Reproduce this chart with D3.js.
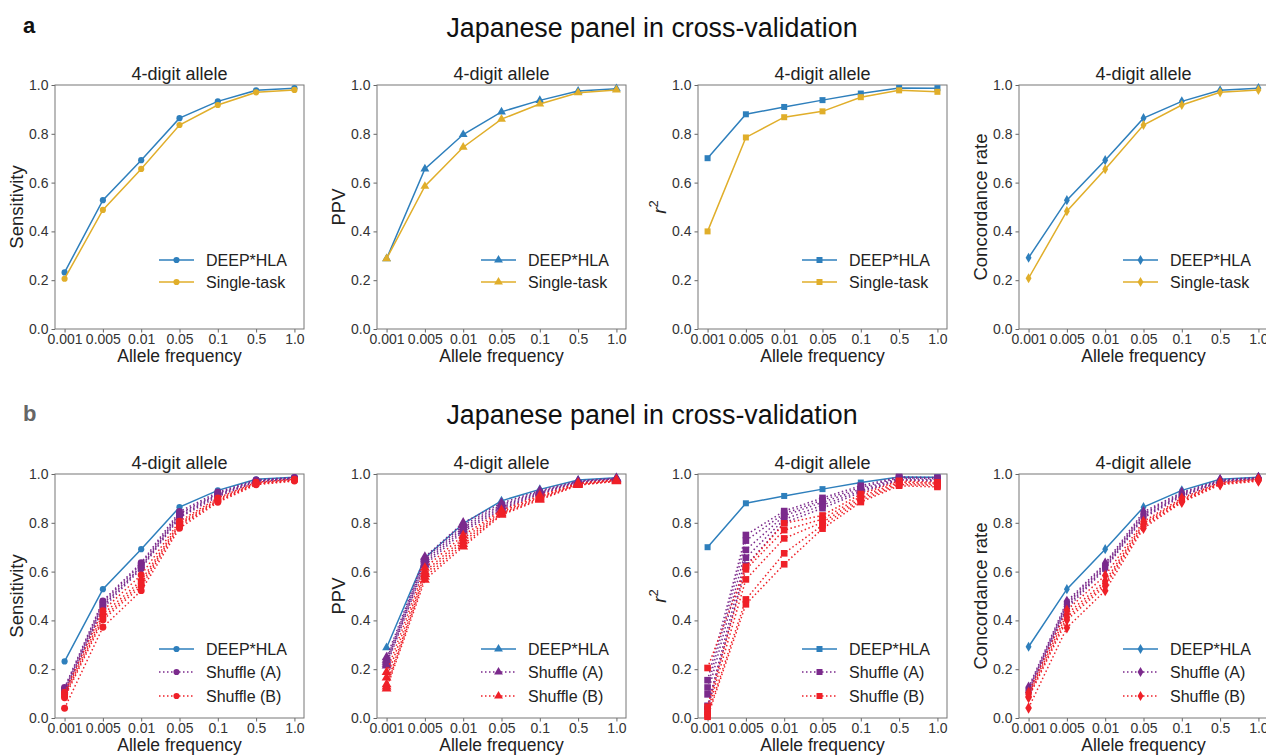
<!DOCTYPE html>
<html>
<head>
<meta charset="utf-8">
<script src="https://cdn.jsdelivr.net/npm/d3@7"></script>
<style>
  body { margin: 0; background: #fff; }
  svg { font-family: "Liberation Sans", Arial, sans-serif; display: block; }
</style>
</head>
<body>
<div id="chart"></div>
<script>
// Allele frequency bins (categorical x axis)
const freqLabels = ["0.001", "0.005", "0.01", "0.05", "0.1", "0.5", "1.0"];
const yTicks = [0, 0.2, 0.4, 0.6, 0.8, 1.0];

// Panel a: DEEP*HLA vs single-task
const sensDeep   = [0.232, 0.528, 0.692, 0.864, 0.933, 0.978, 0.987];
const sensSingle = [0.206, 0.488, 0.656, 0.836, 0.918, 0.970, 0.980];
const ppvDeep    = [0.288, 0.656, 0.797, 0.890, 0.937, 0.975, 0.985];
const ppvSingle  = [0.288, 0.585, 0.745, 0.860, 0.922, 0.968, 0.980];
const r2Deep     = [0.700, 0.880, 0.910, 0.938, 0.965, 0.988, 0.987];
const r2Single   = [0.400, 0.785, 0.868, 0.892, 0.950, 0.978, 0.972];
const concDeep   = [0.292, 0.528, 0.692, 0.864, 0.933, 0.978, 0.987];
const concSingle = [0.208, 0.483, 0.655, 0.836, 0.918, 0.970, 0.980];

// Panel b: shuffle runs
const sensShufA = [
  [0.125, 0.480, 0.636, 0.846, 0.926, 0.976, 0.986],
  [0.120, 0.474, 0.630, 0.838, 0.921, 0.974, 0.984],
  [0.113, 0.466, 0.621, 0.833, 0.917, 0.972, 0.983],
  [0.106, 0.459, 0.617, 0.826, 0.913, 0.970, 0.982],
  [0.101, 0.450, 0.612, 0.821, 0.908, 0.968, 0.980]
];
const sensShufB = [
  [0.106, 0.440, 0.586, 0.806, 0.902, 0.966, 0.979],
  [0.096, 0.425, 0.563, 0.798, 0.897, 0.963, 0.977],
  [0.089, 0.412, 0.551, 0.792, 0.892, 0.961, 0.975],
  [0.083, 0.402, 0.540, 0.786, 0.888, 0.959, 0.973],
  [0.040, 0.372, 0.522, 0.778, 0.884, 0.956, 0.971]
];
const ppvShufA = [
  [0.248, 0.660, 0.800, 0.881, 0.932, 0.972, 0.983],
  [0.238, 0.652, 0.790, 0.874, 0.928, 0.970, 0.981],
  [0.230, 0.645, 0.781, 0.868, 0.925, 0.968, 0.980],
  [0.222, 0.636, 0.772, 0.862, 0.921, 0.966, 0.979],
  [0.215, 0.627, 0.764, 0.856, 0.918, 0.964, 0.978]
];
const ppvShufB = [
  [0.188, 0.615, 0.748, 0.852, 0.912, 0.962, 0.976],
  [0.165, 0.600, 0.735, 0.846, 0.907, 0.960, 0.975],
  [0.138, 0.590, 0.724, 0.840, 0.903, 0.958, 0.973],
  [0.128, 0.578, 0.712, 0.836, 0.898, 0.956, 0.971],
  [0.120, 0.566, 0.702, 0.832, 0.894, 0.954, 0.970]
];
const r2ShufA = [
  [0.155, 0.750, 0.848, 0.902, 0.952, 0.988, 0.985],
  [0.125, 0.727, 0.838, 0.893, 0.945, 0.985, 0.981],
  [0.097, 0.689, 0.829, 0.884, 0.938, 0.982, 0.977],
  [0.050, 0.657, 0.814, 0.872, 0.931, 0.978, 0.974],
  [0.035, 0.625, 0.800, 0.860, 0.925, 0.975, 0.970]
];
const r2ShufB = [
  [0.205, 0.620, 0.798, 0.830, 0.918, 0.972, 0.966],
  [0.046, 0.609, 0.770, 0.815, 0.908, 0.967, 0.962],
  [0.026, 0.568, 0.736, 0.802, 0.900, 0.962, 0.957],
  [0.012, 0.486, 0.675, 0.790, 0.892, 0.957, 0.952],
  [0.005, 0.466, 0.630, 0.776, 0.885, 0.952, 0.947]
];
const concShufA = [
  [0.126, 0.478, 0.634, 0.845, 0.925, 0.976, 0.986],
  [0.120, 0.471, 0.628, 0.838, 0.921, 0.974, 0.984],
  [0.114, 0.464, 0.622, 0.832, 0.916, 0.972, 0.983],
  [0.107, 0.457, 0.616, 0.826, 0.912, 0.970, 0.982],
  [0.102, 0.449, 0.611, 0.820, 0.908, 0.968, 0.980]
];
const concShufB = [
  [0.105, 0.442, 0.584, 0.805, 0.901, 0.966, 0.979],
  [0.096, 0.426, 0.561, 0.798, 0.896, 0.963, 0.977],
  [0.088, 0.413, 0.550, 0.792, 0.892, 0.961, 0.975],
  [0.084, 0.402, 0.540, 0.786, 0.888, 0.959, 0.973],
  [0.041, 0.370, 0.522, 0.778, 0.884, 0.956, 0.971]
];

const yLabels = ["Sensitivity", "PPV", "r2", "Concordance rate"];
const markers = [d3.symbolCircle, d3.symbolTriangle, d3.symbolSquare, d3.symbolDiamond];
const markerSize = [30, 34, 36, 30];

const colors = {
  deep: "#2e7fbc",
  single: "#e0ae2a",
  shufA: "#7b2a8c",
  shufB: "#ef2028"
};

const width = 1266, height = 756;
const rowTop = [85, 474];
const plotH = 244, plotW = 249;
const colLeft = [55, 377, 698, 1019];

const svg = d3.select("#chart").append("svg")
  .attr("width", width)
  .attr("height", height);

svg.append("rect").attr("width", width).attr("height", height).attr("fill", "#fff");

// Figure-level headings
svg.append("text").attr("x", 23).attr("y", 33)
  .style("font-size", "22px").style("font-weight", "bold").attr("fill", "#111").text("a");
svg.append("text").attr("x", 23).attr("y", 421)
  .style("font-size", "22px").style("font-weight", "bold").attr("fill", "#666").text("b");
[37, 424].forEach(y => {
  svg.append("text").attr("x", 652).attr("y", y)
    .attr("text-anchor", "middle")
    .style("font-size", "26.8px").attr("fill", "#111")
    .text("Japanese panel in cross-validation");
});

const panelsA = [
  { deep: sensDeep, single: sensSingle },
  { deep: ppvDeep, single: ppvSingle },
  { deep: r2Deep, single: r2Single },
  { deep: concDeep, single: concSingle }
];
const panelsB = [
  { deep: sensDeep, a: sensShufA, b: sensShufB },
  { deep: ppvDeep, a: ppvShufA, b: ppvShufB },
  { deep: r2Deep, a: r2ShufA, b: r2ShufB },
  { deep: concDeep, a: concShufA, b: concShufB }
];

function drawSeries(g, x, y, vals, color, sym, size, dotted) {
  const line = d3.line().x((d, i) => x(i)).y(d => y(d));
  g.append("path")
    .datum(vals)
    .attr("d", line)
    .attr("fill", "none")
    .attr("stroke", color)
    .attr("stroke-width", 1.5)
    .attr("stroke-dasharray", dotted ? "1.5,2.5" : null);
  g.selectAll(null)
    .data(vals)
    .enter()
    .append("path")
    .attr("transform", (d, i) => `translate(${x(i)},${y(d)})`)
    .attr("d", d3.symbol().type(sym).size(size))
    .attr("fill", color);
}

function drawAxes(row, col) {
  const left = colLeft[col], top = rowTop[row];
  const g = svg.append("g").attr("transform", `translate(${left},${top})`);
  const x = d3.scaleLinear().domain([-0.25, 6.25]).range([0, plotW]);
  const y = d3.scaleLinear().domain([0, 1]).range([plotH, 0]);

  const xAxis = g.append("g").attr("transform", `translate(0,${plotH})`)
    .call(d3.axisBottom(x).tickValues(d3.range(7)).tickFormat(i => freqLabels[i]).tickSize(3.5).tickPadding(2));
  const yAxis = g.append("g")
    .call(d3.axisLeft(y).tickValues(yTicks).tickFormat(d3.format(".1f")).tickSize(3.5).tickPadding(3));
  [xAxis, yAxis].forEach(a => {
    a.select(".domain").remove();
    a.selectAll("line").attr("stroke", "#666");
    a.selectAll("text").style("font-size", "14px").attr("fill", "#333").style("font-family", "Liberation Sans, Arial, sans-serif");
  });

  g.append("rect").attr("width", plotW).attr("height", plotH)
    .attr("fill", "none").attr("stroke", "#777").attr("stroke-width", 1);

  g.append("text").attr("x", plotW / 2).attr("y", -5)
    .attr("text-anchor", "middle").style("font-size", "18px").attr("fill", "#222")
    .text("4-digit allele");
  g.append("text").attr("x", plotW / 2).attr("y", plotH + 33)
    .attr("text-anchor", "middle").style("font-size", "17.5px").attr("fill", "#222")
    .text("Allele frequency");

  const yl = g.append("text")
    .attr("transform", `translate(${-32},${plotH / 2}) rotate(-90)`)
    .attr("text-anchor", "middle").style("font-size", "18.5px").attr("fill", "#222");
  if (yLabels[col] === "r2") {
    yl.append("tspan").style("font-style", "italic").text("r");
    yl.append("tspan").attr("dy", -8).style("font-size", "13px").text("2");
  } else {
    yl.text(yLabels[col]);
  }
  return { g, x, y };
}

function legend(g, items, col) {
  const x0 = plotW - 145;
  const rowsY = items.length === 2 ? [175, 197] : [175, 198, 222];
  items.forEach((it, i) => {
    const yy = rowsY[i];
    g.append("line").attr("x1", x0).attr("x2", x0 + 35).attr("y1", yy).attr("y2", yy)
      .attr("stroke", it.color).attr("stroke-width", 1.5)
      .attr("stroke-dasharray", it.dotted ? "1.5,2.5" : null);
    g.append("path").attr("transform", `translate(${x0 + 17.5},${yy})`)
      .attr("d", d3.symbol().type(markers[col]).size(markerSize[col]))
      .attr("fill", it.color);
    g.append("text").attr("x", x0 + 47).attr("y", yy + 5.5)
      .style("font-size", "16px").attr("fill", "#222").text(it.label);
  });
}

// Row a
panelsA.forEach((p, col) => {
  const { g, x, y } = drawAxes(0, col);
  drawSeries(g, x, y, p.deep, colors.deep, markers[col], markerSize[col], false);
  drawSeries(g, x, y, p.single, colors.single, markers[col], markerSize[col], false);
  legend(g, [
    { label: "DEEP*HLA", color: colors.deep },
    { label: "Single-task", color: colors.single }
  ], col);
});

// Row b
panelsB.forEach((p, col) => {
  const { g, x, y } = drawAxes(1, col);
  drawSeries(g, x, y, p.deep, colors.deep, markers[col], markerSize[col], false);
  p.a.forEach(s => drawSeries(g, x, y, s, colors.shufA, markers[col], markerSize[col] + 8, true));
  p.b.forEach(s => drawSeries(g, x, y, s, colors.shufB, markers[col], markerSize[col] + 8, true));
  legend(g, [
    { label: "DEEP*HLA", color: colors.deep },
    { label: "Shuffle (A)", color: colors.shufA, dotted: true },
    { label: "Shuffle (B)", color: colors.shufB, dotted: true }
  ], col);
});
</script>
</body>
</html>
